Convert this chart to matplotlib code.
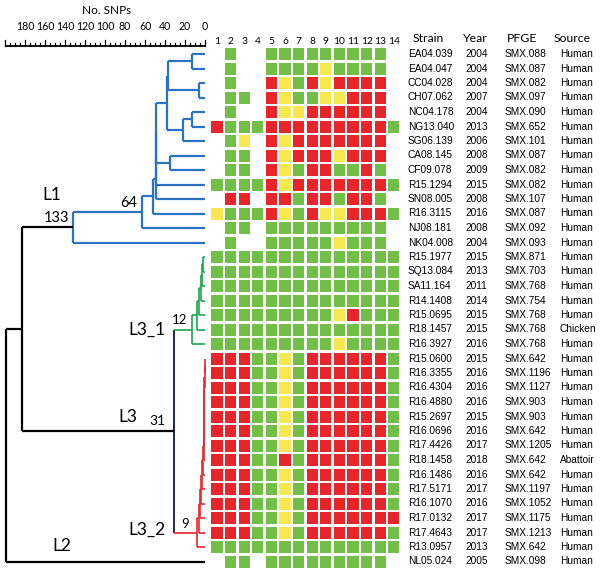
import matplotlib
matplotlib.use('Agg')
import matplotlib.pyplot as plt

# ---------------- data ----------------
strains = ["EA04.039", "EA04.047", "CC04.028", "CH07.062", "NC04.178", "NG13.040",
           "SG06.139", "CA08.145", "CF09.078", "R15.1294", "SN08.005", "R16.3115",
           "NJ08.181", "NK04.008", "R15.1977", "SQ13.084", "SA11.164", "R14.1408",
           "R15.0695", "R18.1457", "R16.3927", "R15.0600", "R16.3355", "R16.4304",
           "R16.4880", "R15.2697", "R16.0696", "R17.4426", "R18.1458", "R16.1486",
           "R17.5171", "R16.1070", "R17.0132", "R17.4643", "R13.0957", "NL05.024"]
years = ["2004", "2004", "2004", "2007", "2004", "2013", "2006", "2008", "2009", "2015",
         "2008", "2016", "2008", "2004", "2015", "2013", "2011", "2014", "2015", "2015",
         "2016", "2015", "2016", "2016", "2016", "2015", "2016", "2017", "2018", "2016",
         "2017", "2016", "2017", "2017", "2013", "2005"]
pfge = ["SMX.088", "SMX.087", "SMX.082", "SMX.097", "SMX.090", "SMX.652", "SMX.101",
        "SMX.087", "SMX.082", "SMX.082", "SMX.107", "SMX.087", "SMX.092", "SMX.093",
        "SMX.871", "SMX.703", "SMX.768", "SMX.754", "SMX.768", "SMX.768", "SMX.768",
        "SMX.642", "SMX.1196", "SMX.1127", "SMX.903", "SMX.903", "SMX.642", "SMX.1205",
        "SMX.642", "SMX.642", "SMX.1197", "SMX.1052", "SMX.1175", "SMX.1213", "SMX.642",
        "SMX.098"]
sources = ["Human"] * 19 + ["Chicken"] + ["Human"] * 8 + ["Abattoir"] + ["Human"] * 7

columns = list(range(1, 15))
# G = green, Y = yellow, R = red, - = empty
profiles = [
    "-G--GGGGGGGGG-", "-G--GGGGYGGGG-", "-G--RYGRYRRRR-", "-GG-RYGGYYRRR-",
    "-G--RYYRRRRRR-", "RGGGRRRRRRRRRG", "-GY-RYRRRRRRR-", "-GG-RYRRRYRRR-",
    "-GG-RYGRRGGRG-", "GGGGRYRRRRRRRG", "-RR-RRGRRGRRG-", "YGGGRYGRYYRRRG",
    "-GG-GGGGGGGGG-", "-G--GGGGGYGGG-", "GGGGGGGGGGGGGG", "GGGGGGGGGGGGGG",
    "GGGGGGGGGGGGGG", "GGGGGGGGGGGGGG", "GGGGGGGGGYRGGG", "GGGGGGGGGGGGGG",
    "GGGGGGGGGYGGGG", "RRRGGYGRRRRRRG", "RRRGGYGRRRRRRG", "RRRGGYGRRRRRRG",
    "RRRGGYGRRRRRRG", "RRRGGYGRRRRRRG", "RRRGGYGRRRRRRG", "RRRGGYGRRRRRRG",
    "RRRGGRGRRRRRRG", "RRRGGYGRRRRRRG", "RRRGGYGRRRRRRG", "RRRGGYGRRRRRRG",
    "RRRGGYGRRRRRRR", "RRRGGYGRRRRRRG", "GGGGGGGGGGGGGG", "-GG-GGGGGGGGG-",
]

# tree: internal nodes (name, child_a, child_b, height in SNPs, clade)
tree_nodes = [
    ("n12", 0, 1, 12.7, "L1"), ("n34", 2, 3, 5.7, "L1"), ("A", "n12", "n34", 36.7, "L1"),
    ("n56", 4, 5, 12.7, "L1"), ("n567", "n56", 6, 21.7, "L1"), ("B", "A", "n567", 38.3, "L1"),
    ("n89", 7, 8, 35.0, "L1"), ("D1", "B", "n89", 49.0, "L1"), ("D2", "D1", 9, 49.0, "L1"),
    ("D3", "D2", 10, 49.5, "L1"), ("E", "D3", 11, 52.3, "L1"), ("F", "E", 12, 63.3, "L1"),
    ("G", "F", 13, 132.3, "L1"),
    ("P1", 14, 15, 1.7, "L3_1"), ("T", "P1", 16, 3.3, "L3_1"), ("S", "T", 17, 4.3, "L3_1"),
    ("R", "S", 18, 5.7, "L3_1"), ("Q", "R", 19, 8.3, "L3_1"), ("L3_1", "Q", 20, 12.7, "L3_1"),
    ("N1", 21, 22, 0.4, "L3_2"), ("N2", "N1", 23, 0.5, "L3_2"), ("N3", "N2", 24, 0.6, "L3_2"),
    ("N4", "N3", 25, 0.7, "L3_2"), ("N5", "N4", 26, 0.7, "L3_2"), ("N6", "N5", 27, 0.8, "L3_2"),
    ("N7", "N6", 28, 1.2, "L3_2"), ("N8", "N7", 29, 1.7, "L3_2"), ("N9", "N8", 30, 3.0, "L3_2"),
    ("N10", "N9", 31, 4.0, "L3_2"), ("N11", "N10", 32, 5.0, "L3_2"), ("N12", "N11", 33, 6.0, "L3_2"),
    ("L3_2", "N12", 34, 8.5, "L3_2"),
    ("L3", "L3_1", "L3_2", 30.7, "L3"),
    ("L1L3", "G", "L3", 183.3, "root"),
    ("root", "L1L3", 35, 199.3, "root"),
]
black_stems = {"G", "L3"}
node_labels = [("G", "133"), ("F", "64"), ("L3", "31"), ("L3_1", "12"), ("L3_2", "9")]

clade_colors = {"L1": "#2a72c4", "L3_1": "#17a84b", "L3_2": "#e8262b",
                "L3": "#23246e", "root": "black"}
clade_lw = {"L1": 1.6, "L3_1": 1.2, "L3_2": 1.2, "L3": 1.4, "root": 1.6}
cell_colors = {"G": "#72bf47", "Y": "#f8e84f", "R": "#e8252b"}

scale_ticks = list(range(0, 201, 5))
scale_labels = list(range(0, 181, 20))

# ---------------- layout helpers ----------------
W, H = 600, 577
ROW0, ROWH = 54.0, 14.5
fig = plt.figure(figsize=(W / 100, H / 100), dpi=100)


def add_axes_px(x0, x1):
    ax = fig.add_axes([x0 / W, 0, (x1 - x0) / W, 1])
    ax.set_ylim((H - ROW0) / ROWH, -ROW0 / ROWH)
    ax.axis("off")
    return ax


def px2pt(v):
    return v * 0.72


label_font = ["Lato", "DejaVu Sans"]
data_font = ["Liberation Sans", "DejaVu Sans"]

# ---------------- tree ----------------
tax = add_axes_px(0, 210)
tax.set_xlim(205, -5)

pos = {}
height = {}
clade_of = {}
for i in range(len(strains)):
    pos[i] = i
    height[i] = 0.0
for name, a, b, h, cl in tree_nodes:
    pos[name] = (pos[a] + pos[b]) / 2.0
    height[name] = h
    clade_of[name] = cl

for name, a, b, h, cl in tree_nodes:
    col = clade_colors[cl]
    lw = clade_lw[cl]
    tax.plot([h, h], [pos[a], pos[b]], color=col, lw=lw, solid_capstyle="butt", zorder=2)
    for c in (a, b):
        if isinstance(c, str):
            scl = "root" if c in black_stems else clade_of[c]
        else:
            scl = cl
        tax.plot([h, height[c]], [pos[c], pos[c]], color=clade_colors[scl],
                 lw=clade_lw[scl], solid_capstyle="butt", zorder=2)

# node labels
lab_off = {"G": (-3, -9.5), "F": (-4.5, -9), "L3": (-9.3, -9.7), "L3_1": (-5.3, -10),
           "L3_2": (-7.5, -8.5)}
lab_size = {"G": 10.5, "F": 10.5, "L3": 10, "L3_1": 9.5, "L3_2": 9.5}
for n, txt in node_labels:
    dx, dy = lab_off[n]
    tax.annotate(txt, (height[n], pos[n]), xytext=(px2pt(dx), -px2pt(dy)),
                 textcoords="offset points", ha="right", va="center",
                 fontsize=lab_size[n], family=label_font)

# lineage names
lineage_text = [("L1", "G", (-20.7, -32.5), "center"), ("L3", "L3", (-46.8, -13.7), "center"),
                ("L3_1", "L3_1", (-27.3, 0), "right"), ("L3_2", "L3_2", (-31.5, -2.5), "right")]
for txt, n, (dx, dy), ha in lineage_text:
    tax.annotate(txt, (height[n], pos[n]), xytext=(px2pt(dx), -px2pt(dy)),
                 textcoords="offset points", ha=ha, va="center",
                 fontsize=12.5, family=label_font)
tax.annotate("L2", (height["root"], pos[35]), xytext=(px2pt(56), px2pt(15.5)),
             textcoords="offset points", ha="center", va="center",
             fontsize=12.5, family=label_font)

# scale bar
ybar = (46 - ROW0) / ROWH
tax.plot([max(scale_ticks), 0], [ybar, ybar], color="black", lw=1.3, solid_capstyle="butt")
for t in scale_ticks:
    th = 6.5 if t % 20 == 0 else 3.5
    tax.plot([t, t], [ybar, ybar - th / ROWH], color="black", lw=0.9)
for t in scale_labels:
    tax.text(t, (26 - ROW0) / ROWH, str(t), ha="center", va="center",
             fontsize=7.6, family=label_font)
tax.text(98, (10 - ROW0) / ROWH, "No. SNPs", ha="center", va="center",
         fontsize=8.5, family=label_font)

# ---------------- heatmap ----------------
hax = add_axes_px(205, 405)
CX0, CW = 217.0, 13.6
hax.set_xlim(1 + (205 - CX0) / CW, 1 + (405 - CX0) / CW)
cell_w = 11.2 / CW
cell_h = 12.0 / ROWH
for r, prof in enumerate(profiles):
    for j, ch in enumerate(prof):
        if ch in cell_colors:
            hax.bar(columns[j], cell_h, bottom=r - cell_h / 2, width=cell_w,
                    color=cell_colors[ch], linewidth=0)
for c in columns:
    hax.text(c, (41 - ROW0) / ROWH, str(c), ha="center", va="center",
             fontsize=7.4, family=label_font)

# ---------------- table ----------------
xax = add_axes_px(400, 600)
xax.set_xlim(400, 600)
headers = [("Strain", 428), ("Year", 475.5), ("PFGE", 522), ("Source", 572.5)]
for txt, x in headers:
    xax.text(x, (38 - ROW0) / ROWH, txt, ha="center", va="center",
             fontsize=8.8, family=label_font)
for r in range(len(strains)):
    xax.text(408, r, strains[r], ha="left", va="center", fontsize=7.3, family=data_font)
    xax.text(476.5, r, years[r], ha="center", va="center", fontsize=7.3, family=data_font)
    xax.text(505, r, pfge[r], ha="left", va="center", fontsize=7.3, family=data_font)
    xax.text(560, r, sources[r], ha="left", va="center", fontsize=7.3, family=data_font)

fig.savefig("out.png", dpi=100)
